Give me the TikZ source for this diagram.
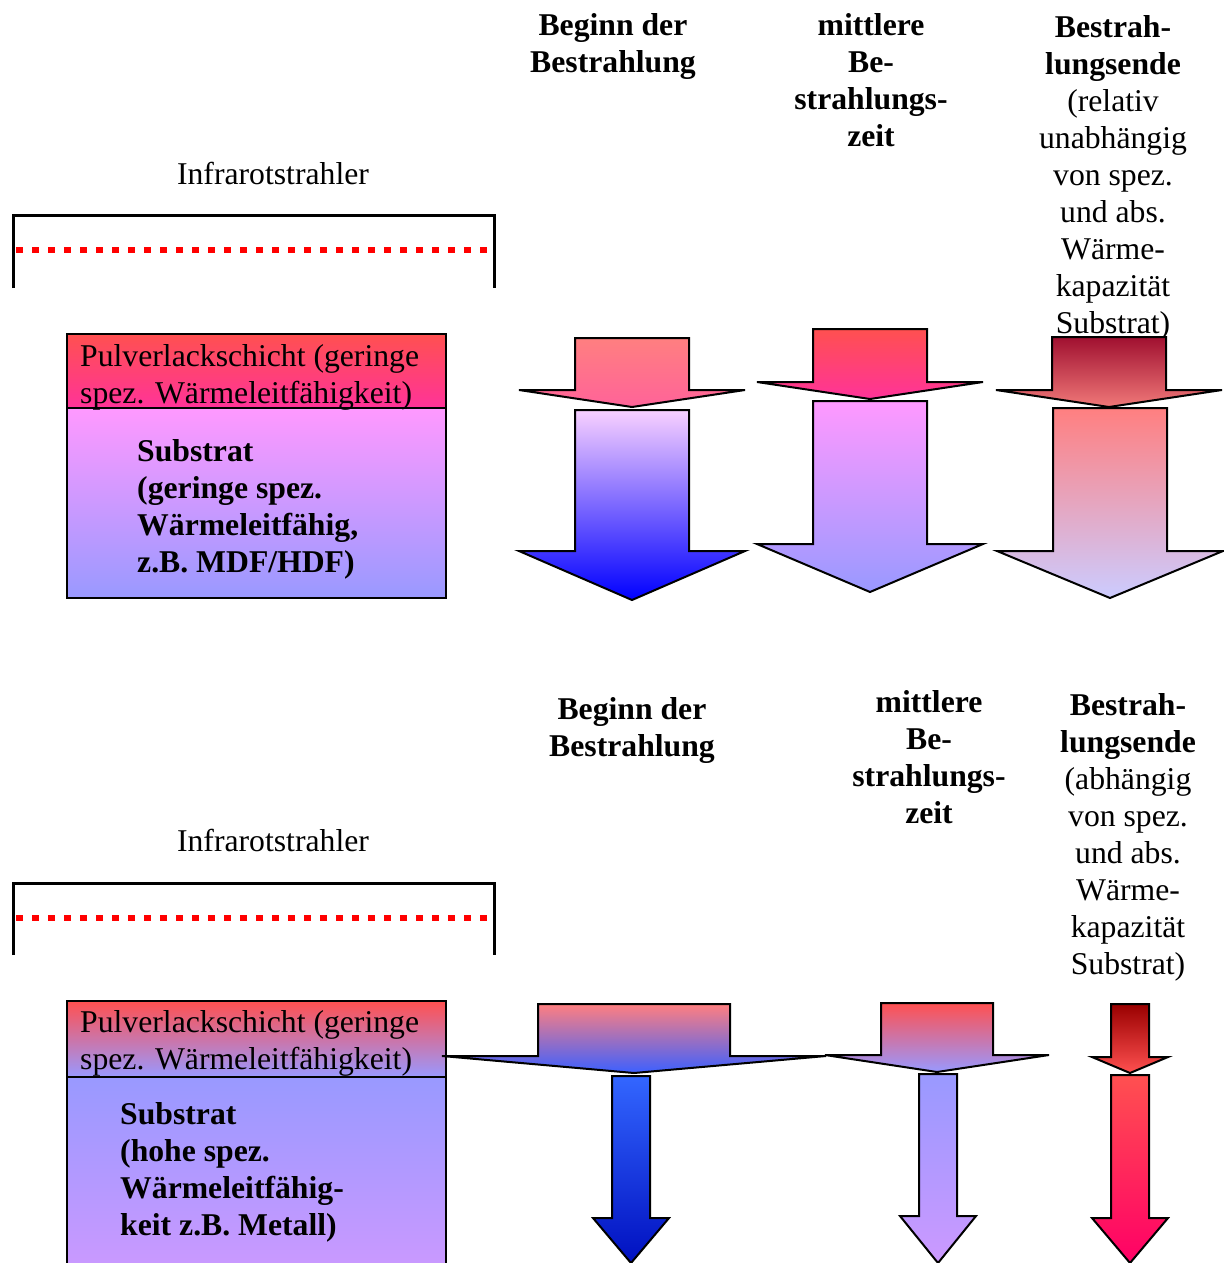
\documentclass[tikz,border=0pt]{standalone}
\usepackage{fontspec}
\setmainfont{Liberation Serif}

\definecolor{salmon}{HTML}{FF7F80}
\definecolor{rose}{HTML}{FF6399}
\definecolor{coral}{HTML}{FF5050}
\definecolor{hotpink}{HTML}{FF3399}
\definecolor{lilac}{HTML}{FF99FF}
\definecolor{periwinkle}{HTML}{9999FF}
\definecolor{mauve}{HTML}{CC99FF}
\definecolor{paleviolet}{HTML}{CCCCFF}
\definecolor{palepink}{HTML}{F8D0FF}
\definecolor{midviolet}{HTML}{B898FF}
\definecolor{darkred}{HTML}{990000}
\definecolor{wine}{HTML}{A01030}
\definecolor{lightred}{HTML}{F07878}
\definecolor{brightblue}{HTML}{3366FF}
\definecolor{deepblue}{HTML}{0010C0}
\definecolor{raspberry}{HTML}{FF0066}

% block arrow: x, half body, y top, y wing, half wing, y tip, shading
\newcommand{\blockarrow}[7]{%
  \path[draw, line width=2, #7] ({#1-#2},#3) -- ({#1+#2},#3) -- ({#1+#2},#4)
    -- ({#1+#5},#4) -- (#1,#6) -- ({#1-#5},#4) -- ({#1-#2},#4) -- cycle;}

\begin{document}
\begin{tikzpicture}[x=1pt, y=-1pt,
    heading/.style={inner sep=0pt, align=center, anchor=north,
                    font=\fontsize{31.7}{37}\selectfont},
    boxtext/.style={inner sep=0pt, align=left, anchor=north west,
                    font=\fontsize{31.7}{37}\selectfont},
    emitter/.style={line width=3pt},
    glow/.style={red, line width=6.5pt, dash pattern=on 6.5pt off 9.5pt}]
    \useasboundingbox (0,0) rectangle (1223,1263);

    % ---- upper panel: low thermal conductivity substrate ----
    \node[heading] (beginA) at (613,13) {\textbf{Beginn der}\\\textbf{Bestrahlung}};
    \node[heading] (midA) at (871,13) {\textbf{mittlere}\\\textbf{Be-}\\\textbf{strahlungs-}\\\textbf{zeit}};
    \node[heading] (endA) at (1113,15) {\textbf{Bestrah-}\\\textbf{lungsende}\\(relativ\\unabhängig\\von spez.\\und abs.\\Wärme-\\kapazität\\Substrat)};
    \node[heading] (irA) at (273,162) {Infrarotstrahler};

    \draw[emitter] (13,288) -- (13,215) -- (494,215) -- (494,288);
    \draw[glow] (16,250) -- (490,250);

    \path[draw, line width=1.5, top color=coral, bottom color=hotpink] (67,334) rectangle (446,408);
    \path[draw, line width=1.5, top color=lilac, bottom color=periwinkle] (67,408) rectangle (446,598);
    \node[boxtext] (coatA) at (80,344) {Pulverlackschicht (geringe\\spez. Wärmeleitfähigkeit)};
    \node[boxtext] (substA) at (137,439) {\textbf{Substrat}\\\textbf{(geringe spez.}\\\textbf{Wärmeleitfähig,}\\\textbf{z.B. MDF/HDF)}};

    \blockarrow{632}{57}{338}{390}{113}{407}{top color=salmon, bottom color=rose}
    \blockarrow{632}{57}{410}{551}{113}{600}{top color=palepink, middle color=midviolet, bottom color=blue}
    \blockarrow{870}{57}{329}{382}{113}{399}{top color=coral, bottom color=hotpink}
    \blockarrow{870}{57}{401}{544}{113}{592}{top color=lilac, bottom color=periwinkle}
    \blockarrow{1109}{57}{337}{390}{113}{407}{top color=wine, bottom color=lightred}
    \blockarrow{1110}{57}{408}{551}{113}{598}{top color=salmon, bottom color=paleviolet}

    % ---- lower panel: high thermal conductivity substrate ----
    \node[heading] (beginB) at (632,697) {\textbf{Beginn der}\\\textbf{Bestrahlung}};
    \node[heading] (midB) at (929,690) {\textbf{mittlere}\\\textbf{Be-}\\\textbf{strahlungs-}\\\textbf{zeit}};
    \node[heading] (endB) at (1128,693) {\textbf{Bestrah-}\\\textbf{lungsende}\\(abhängig\\von spez.\\und abs.\\Wärme-\\kapazität\\Substrat)};
    \node[heading] (irB) at (273,829) {Infrarotstrahler};

    \draw[emitter] (13,955) -- (13,883) -- (494,883) -- (494,955);
    \draw[glow] (16,918) -- (490,918);

    \path[draw, line width=1.5, top color=coral, bottom color=periwinkle] (67,1001) rectangle (446,1077);
    \path[draw, line width=1.5, top color=periwinkle, bottom color=mauve] (67,1077) rectangle (446,1275);
    \node[boxtext] (coatB) at (80,1010) {Pulverlackschicht (geringe\\spez. Wärmeleitfähigkeit)};
    \node[boxtext] (substB) at (120,1102) {\textbf{Substrat}\\\textbf{(hohe spez.}\\\textbf{Wärmeleitfähig-}\\\textbf{keit z.B. Metall)}};

    \blockarrow{634}{96}{1004}{1056}{192}{1073}{top color=salmon, bottom color={rgb,255:red,60;green,96;blue,255}}
    \blockarrow{631}{19}{1076}{1218}{38}{1263}{top color=brightblue, bottom color=deepblue}
    \blockarrow{937}{56}{1003}{1055}{112}{1072}{top color=coral, bottom color=periwinkle}
    \blockarrow{938}{19}{1074}{1216}{38}{1263}{top color=periwinkle, bottom color=mauve}
    \blockarrow{1130}{19}{1004}{1057}{38}{1073}{top color=darkred, bottom color=coral}
    \blockarrow{1130}{19}{1075}{1218}{38}{1263}{top color=coral, bottom color=raspberry}
\end{tikzpicture}
\end{document}
